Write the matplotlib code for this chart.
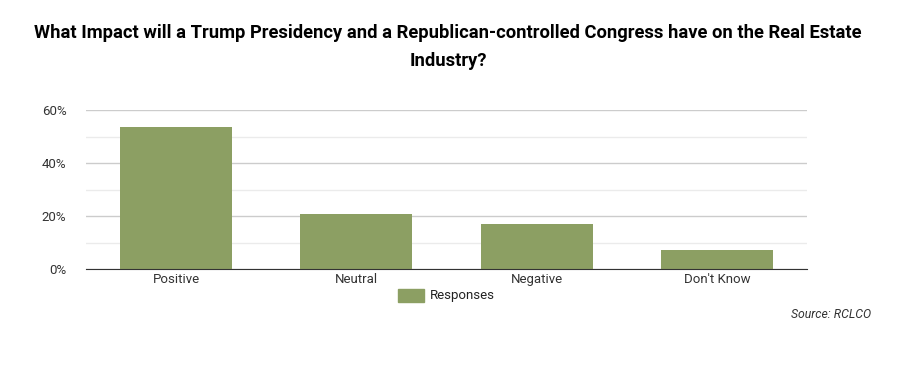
import matplotlib
matplotlib.use("Agg")
import matplotlib.pyplot as plt
from matplotlib.patches import Rectangle
from matplotlib.ticker import FuncFormatter

categories = ["Positive", "Neutral", "Negative", "Don't Know"]
values = [53.6, 20.8, 17.0, 7.2]
series_name = "Responses"
title = "What Impact will a Trump Presidency and a Republican-controlled Congress have on the Real Estate\nIndustry?"
source = "Source: RCLCO"

plt.rcParams['font.family'] = ['Roboto', 'DejaVu Sans']

fig = plt.figure(figsize=(8.99, 3.69), dpi=100)
W, H = 899, 369
ax = fig.add_axes([86 / W, 1 - 269 / H, (807 - 86) / W, (269 - 110) / H])

color = "#8c9f63"
x = list(range(len(categories)))
ax.bar(x, values, width=0.62, color=color, zorder=3)
ax.set_xlim(-0.5, len(categories) - 0.5)
ax.set_ylim(0, 60)
ax.set_yticks([0, 20, 40, 60])
ax.set_yticks([10, 30, 50], minor=True)
ax.yaxis.set_major_formatter(FuncFormatter(lambda v, p: f"{int(v)}%"))
ax.grid(axis='y', which='major', color='#cccccc', linewidth=1, zorder=0)
ax.grid(axis='y', which='minor', color='#ebebeb', linewidth=1, zorder=0)
ax.set_xticks(x)
ax.set_xticklabels(categories)
for s in ['top', 'right', 'left']:
    ax.spines[s].set_visible(False)
ax.spines['bottom'].set_color('#333333')
ax.spines['bottom'].set_zorder(4)
ax.tick_params(axis='both', which='both', length=0, labelsize=9.5, labelcolor='#333333')
ax.tick_params(axis='y', pad=14)
ax.tick_params(axis='x', pad=3)

fig.text(448 / W, 1 - 47 / H, title, ha='center', va='center', fontsize=13.2,
         fontweight='bold', color='#000000', linespacing=1.75)

# legend
fig.patches.append(Rectangle((398 / W, 1 - 302 / H), 26 / W, 13 / H,
                             transform=fig.transFigure, color=color))
fig.text(430 / W, 1 - 296 / H, series_name, ha='left', va='center',
         fontsize=9.5, color='#222222')

fig.text(871 / W, 1 - 314 / H, source, ha='right', va='center', fontsize=8.8,
         style='italic', color='#333333')

fig.savefig("out.png", dpi=100, facecolor='white')
